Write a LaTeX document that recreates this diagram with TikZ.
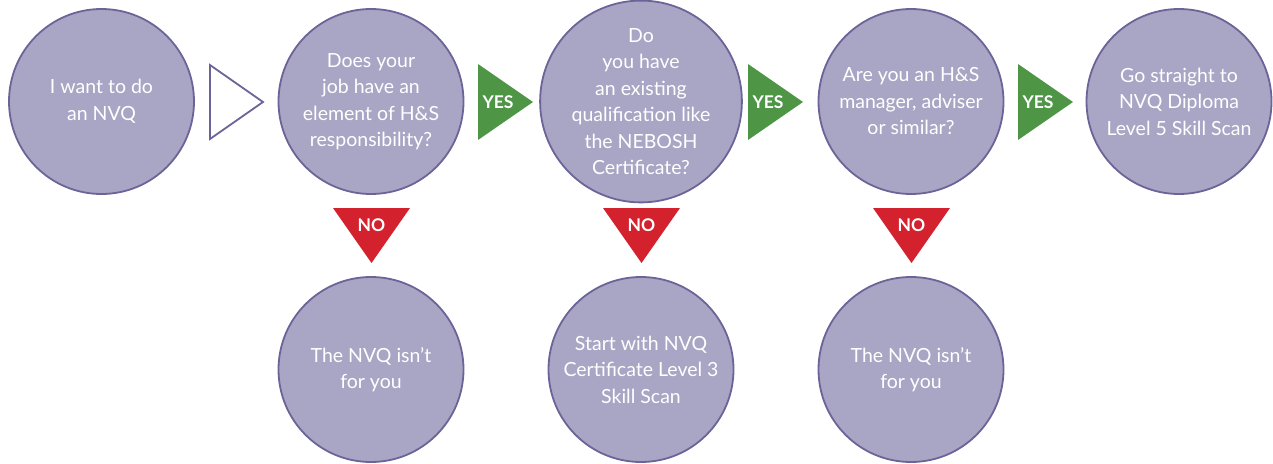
\documentclass[tikz,border=0pt]{standalone}
\usepackage{fontspec}
\setmainfont{Lato}
\definecolor{lav}{HTML}{A9A5C4}
\definecolor{lavline}{HTML}{6C6498}
\definecolor{yesgreen}{HTML}{4E9546}
\definecolor{nored}{HTML}{D4212E}
\begin{document}
\begin{tikzpicture}[x=1pt,y=-1pt]
	\tikzstyle{bubble}=[circle,fill=lav,draw=lavline,line width=1.8pt,minimum size=185pt,inner sep=0pt,text=white,align=center,font=\fontsize{19.5}{26.5}\selectfont];
	\tikzstyle{tag}=[text=white,inner sep=0pt,font=\fontsize{17.5}{17.5}\selectfont\bfseries];
	\useasboundingbox (0,0) rectangle (1273,463);
	\node[bubble] (want) at (101.5,101.5) {I want to do\\an NVQ};
	\node[bubble] (job) at (371,101.5) {Does your\\job have an\\element of H\&S\\responsibility?};
	\node[bubble] (qual) at (641,101.5) {Do\\you have\\an existing\\qualification like\\the NEBOSH\\Certificate?};
	\node[bubble] (mgr) at (911,101.5) {Are you an H\&S\\manager, adviser\\or similar?};
	\node[bubble] (dipl) at (1179,101.5) {Go straight to\\NVQ Diploma\\Level 5 Skill Scan};
	\node[bubble] (notyou) at (371,369.5) {The NVQ isn’t\\for you};
	\node[bubble] (cert) at (641,369.5) {Start with NVQ\\Certificate Level 3\\Skill Scan};
	\node[bubble] (notyoub) at (911,369.5) {The NVQ isn’t\\for you};
	\filldraw[fill=white,draw=lavline,line width=1.8pt] (210,65) -- (263,102) -- (210,139) -- cycle;
	\fill[yesgreen] (478,64) -- (533,102) -- (478,140) -- cycle;
	\fill[yesgreen] (748,64) -- (803,102) -- (748,140) -- cycle;
	\fill[yesgreen] (1018,64) -- (1073,102) -- (1018,140) -- cycle;
	\node[tag] (yesa) at (498,102) {YES};
	\node[tag] (yesb) at (768,102) {YES};
	\node[tag] (yesc) at (1038,102) {YES};
	\fill[nored] (333,208) -- (410,208) -- (371.5,263) -- cycle;
	\fill[nored] (603,208) -- (680,208) -- (641.5,263) -- cycle;
	\fill[nored] (873,208) -- (950,208) -- (911.5,263) -- cycle;
	\node[tag] (noa) at (371.5,225) {NO};
	\node[tag] (nob) at (641.5,225) {NO};
	\node[tag] (noc) at (911.5,225) {NO};
\end{tikzpicture}
\end{document}
